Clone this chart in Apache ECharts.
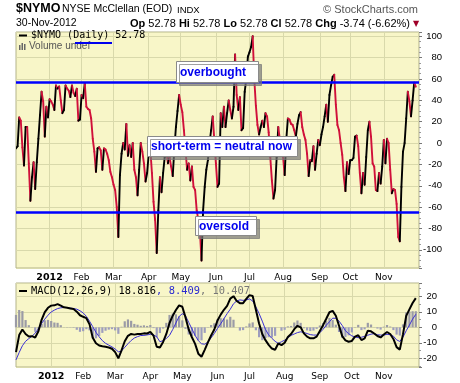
<!DOCTYPE html>
<html><head><meta charset="utf-8">
<script src="https://cdn.jsdelivr.net/npm/echarts@6/dist/echarts.min.js"></script>
<style>html,body{margin:0;padding:0;background:#fff}#c{width:460px;height:383px}</style>
</head><body><div id="c"></div>
<script>
// ---- calendar ----
const firstDay = '2011-12-01';
const lastDay = '2012-11-30';
const holidays = ['2011-12-26','2012-01-02','2012-01-16','2012-02-20','2012-04-06','2012-05-28','2012-07-04','2012-09-03','2012-10-29','2012-10-30','2012-11-22'];
const monthNames = ['Jan','Feb','Mar','Apr','May','Jun','Jul','Aug','Sep','Oct','Nov','Dec'];

// ---- $NYMO daily values ----
const nymo = [
 -5, -3, 24, 21, -4, -21, 15, 15, -19, -54,
 -32, -18, -43, -18, 4, 26, 48, 39, 6, 34,
 24, 41, 39, 36, 31, 54, 51, 53, 40, 28,
 31, 54, 51, 49, 43, 54, 47, 44, 51, 21,
 22, 45, 42, 56, 34, 32, 31, 23, 4, -8,
 -27, -5, -4, -7, -25, -5, -6, -10, -16, -27,
 -32, -39, -44, -60, -88, -30, -10, 0, -6, 18,
 -12, -2, -13, 0, -25, -32, -49, -25, 0, -8,
 -19, -36, -28, -10, -6, -28, -55, -72, -103, -63,
 -32, -46, -28, -13, -7, -19, -13, -22, -31, -6,
 15, 30, 45, 36, 29, 12, -7, -25, -19, -35,
 -22, -41, -44, -63, -72, -82, -110, -63, -41, -25,
 -16, 0, 12, 25, 3, -19, -41, -38, 28, 15,
 34, 15, 28, 40, 31, 23, 34, 83, 45, 31,
 43, 12, 14, 48, 60, 81, 85, 90, 100, 60,
 35, 17, 8, 15, 21, 15, 28, 25, 10, -13,
 -35, -52, -44, -13, 15, 3, -7, -13, -30, 3,
 23, 22, 18, 17, 12, 6, 18, 26, 29, 15,
 8, 3, -10, -31, -16, -17, -3, -25, -10, 3,
 -2, 8, 15, 25, 36, 20, 45, 54, 62, 64,
 36, 17, 12, 0, -11, -32, -45, -18, -29, -16,
 -16, -14, 6, 7, -3, -28, -47, -28, -39, -13,
 12, 20, 6, -19, -22, -44, -45, -28, -38, -22,
 3, -19, 4, 0, -25, -47, -43, -44, -57, -88,
 -92, -41, -8, 0, 23, 48, 39, 25, 40, 56.52,
 52.78
];
const overbought = 56.6;
const oversold = -64.5;

// ---- MACD(12,26,9), read every second trading day ----
const macdLine = [
 -16, -5, -1.4, -4.3, -5.9, -5.7, -6.6, -2.5, 4.8, 9.8,
 12.6, 14, 14.2, 15, 14, 12.9, 12.6, 12.2, 11.8, 10.1,
 7.8, 6.8, 5.9, 1.9, -6.8, -10.3, -11.7, -12.2, -12.5, -13,
 -13.8, -16, -20, -14.8, -9, -5.5, -4.3, -4.7, -4.3, -4.3,
 -3.9, -4, -3, -5.4, -12.5, -13, -9.4, -4.3, 2.8, 7.5,
 11.2, 14.2, 13.3, 6.4, -1.4, -6.4, -10.7, -17, -19, -14.5,
 -9.7, -5.3, -1.4, 4.4, 8.2, 11.3, 13.8, 18.5, 20.1, 17,
 15.6, 15.6, 18.3, 20.8, 20.2, 11.3, 2.5, -4.3, -8.3, -11.3,
 -13.7, -14.5, -10.4, -11.5, -9.9, -6.2, -4.3, -1.2, 1, 0,
 -3.9, -6, -7.1, -7.1, -6, -2.3, 1.4, 5.5, 9.7, 10.6,
 7.5, 1, -5.7, -8.4, -9.3, -8.8, -6, -5.1, -8.2, -7.1,
 -2.2, -2.6, -4, -5.6, -6.5, -4.6, -3, -4.3, -7.5, -12.8,
 -14.4, -4.4, 7.4, 11.6, 15.7, 18.816
];
const signalLine = [
 -21, -16.2, -11.9, -9, -7.3, -5.8, -3.7, -1, 2.5, 5.3,
 7.8, 9.9, 11.1, 12.1, 12.6, 12.8, 12.8, 12.4, 12.1, 11.7,
 10.7, 9.3, 7.1, 3.9, 0.4, -3.2, -6.1, -8.6, -10.3, -11.5,
 -12.6, -14, -15.8, -15.2, -12.9, -10.6, -8.5, -6.9, -6, -5.3,
 -5.2, -4.9, -4.5, -4.9, -6.1, -9.3, -8.6, -7.2, -5.2, -1.4,
 2.8, 7, 8.8, 7.4, 3.2, -1, -5.2, -8.6, -10.6, -10.9,
 -9.5, -6.8, -4, -0.7, 2.3, 5.5, 8.8, 11.7, 15.2, 17,
 17.7, 17.4, 17.7, 18.3, 17, 13.2, 8.9, 4, -1.4, -4.9,
 -7.1, -9, -10.4, -9.3, -8.3, -6.8, -5.2, -4.3, -3.4, -2.9,
 -3.3, -4, -4.7, -5, -5, -3.5, -1.3, 1.3, 3.6, 5.9,
 5.8, 4, 1.2, -2.2, -4.1, -5.5, -6.2, -6.7, -6.4, -5.8,
 -5.1, -4.4, -4.1, -4.8, -5, -5, -4.5, -4.8, -5.7, -8.1,
 -9.1, -6.3, -2.2, 1.4, 5.3, 8.409
];
const histogram = [
 8, 11.2, 10.5, 4.7, 1.4, 0.1, -2.9, -1.5, 2.3, 4.5,
 4.8, 4.1, 3.1, 2.9, 1.4, 0.1, -0.2, -0.2, -0.3, -1.6,
 -2.9, -2.5, -1.2, -2, -7.2, -7.1, -5.6, -3.6, -2.2, -1.5,
 -1.2, -2, -4.2, 0.4, 3.9, 5.1, 4.2, 2.2, 1.7, 1,
 1.3, 0.9, 1.5, -0.5, -6.4, -3.7, -0.8, 2.9, 8, 8.9,
 8.4, 7.2, 4.5, -1, -4.6, -5.4, -5.5, -8.4, -8.4, -3.6,
 -0.2, 1.5, 2.6, 5.1, 5.9, 5.8, 5, 6.8, 4.9, 0,
 -2.1, -1.8, 0.6, 2.5, 3.2, -1.9, -6.4, -8.3, -6.9, -6.4,
 -6.6, -5.5, 0, -2.2, -1.6, 0.6, 0.9, 3.1, 4.4, 2.9,
 -0.6, -2, -2.4, -2.1, -1, 1.2, 2.7, 4.2, 6.1, 4.7,
 1.7, -3, -6.9, -6.2, -5.2, -3.3, 0.2, 1.6, -1.8, -1.3,
 2.9, 1.8, 0.1, -0.8, -1.5, 0.4, 1.5, 0.5, -1.8, -4.7,
 -5.3, 1.9, 9.6, 10.2, 10.4, 10.407
];

// ---- build trading-day categories ----
function tradingDays(from, to, skip) {
  const out = [];
  const d = new Date(from + 'T00:00:00Z');
  const end = new Date(to + 'T00:00:00Z');
  while (d <= end) {
    const s = d.toISOString().slice(0, 10);
    const w = d.getUTCDay();
    if (w !== 0 && w !== 6 && skip.indexOf(s) < 0) out.push(s);
    d.setUTCDate(d.getUTCDate() + 1);
  }
  return out;
}
const days = tradingDays(firstDay, lastDay, holidays);
const cats = days.concat(['', '']);
const macdCats = days.filter((d, i) => i % 2 === 0).concat(['']);

function monthStart(list) {
  return function (idx, val) {
    return idx > 0 && val !== '' && list[idx - 1] !== '' && val.slice(0, 7) !== list[idx - 1].slice(0, 7);
  };
}
function monthLabel(v) {
  if (!v) return '';
  const m = +v.slice(5, 7);
  return m === 1 ? '{y|' + v.slice(0, 4) + '}' : monthNames[m - 1];
}

const segs = [];
for (let k = 0; k < nymo.length - 1; k++) segs.push([k, nymo[k], nymo[k + 1]]);

const gridColor = '#d9d9ab';
const borderColor = '#b3b38a';
const plotBg = '#f8f6c8';
const monthFont = 'DejaVu Sans';

function xAxisCfg(grid, data) {
  const f = monthStart(data);
  return {
    type: 'category', gridIndex: grid, data: data, boundaryGap: false,
    axisLine: { show: false }, axisTick: { show: false },
    axisLabel: { interval: f, formatter: monthLabel, color: '#000', fontSize: 9, fontFamily: monthFont, margin: 5,
      rich: { y: { fontWeight: 'bold', fontSize: 9.5, fontFamily: monthFont, color: '#000' } } },
    splitLine: { show: true, interval: f, lineStyle: { color: gridColor, width: 1 } }
  };
}

const chart = echarts.init(document.getElementById('c'), null, { renderer: 'canvas' });

const boxStyle = { fill: '#fff', stroke: '#8a8a8a', lineWidth: 1, shadowColor: 'rgba(120,120,120,0.7)', shadowOffsetX: 3, shadowOffsetY: 3, shadowBlur: 0 };
const boxFont = 'bold 12px "Liberation Sans", Arial, sans-serif';
function note(x, y, w, h, text) {
  return [
    { type: 'rect', z: 100, shape: { x: x + 0.5, y: y + 0.5, width: w, height: h }, style: boxStyle },
    { type: 'text', z: 101, style: { x: x + 4, y: y + h / 2 + 1, text: text, font: boxFont, fill: '#0000ee', verticalAlign: 'middle' } }
  ];
}

const option = {
  animation: false,
  backgroundColor: '#fff',
  grid: [
    { left: 16, top: 32, width: 403, height: 236, show: true, backgroundColor: plotBg, borderColor: borderColor, borderWidth: 1 },
    { left: 16, top: 283, width: 403, height: 84, show: true, backgroundColor: plotBg, borderColor: borderColor, borderWidth: 1 }
  ],
  xAxis: [ xAxisCfg(0, cats), xAxisCfg(1, macdCats) ],
  yAxis: [
    { type: 'value', gridIndex: 0, position: 'right', min: -117, max: 104, splitNumber: 11,
      axisLine: { show: false },
      axisTick: { show: true, length: 3, lineStyle: { color: '#777' } },
      minorTick: { show: true, splitNumber: 4, length: 2, lineStyle: { color: '#999' } },
      axisLabel: { showMinLabel: false, showMaxLabel: false, align: 'right', margin: 23, fontSize: 9.5, fontFamily: 'Liberation Sans', color: '#000' },
      splitLine: { lineStyle: { color: gridColor } } },
    { type: 'value', gridIndex: 1, position: 'right', min: -25.6, max: 28.6, splitNumber: 5,
      axisLine: { show: false },
      axisTick: { show: true, length: 3, lineStyle: { color: '#777' } },
      minorTick: { show: true, splitNumber: 2, length: 2, lineStyle: { color: '#999' } },
      axisLabel: { showMinLabel: false, showMaxLabel: false, align: 'right', margin: 18, fontSize: 9.5, fontFamily: 'Liberation Sans', color: '#000' },
      splitLine: { lineStyle: { color: gridColor } } }
  ],
  series: [
    { type: 'line', xAxisIndex: 0, yAxisIndex: 0, data: nymo, showSymbol: false, silent: true,
      lineStyle: { opacity: 0 }, z: 4,
      markLine: { silent: true, symbol: ['none', 'none'], label: { show: false },
        lineStyle: { color: '#0000ff', width: 2.5, type: 'solid' },
        data: [ { yAxis: overbought }, { yAxis: oversold } ] } },
    { type: 'custom', xAxisIndex: 0, yAxisIndex: 0, data: segs, clip: true, z: 3,
      encode: { x: 0, y: [1, 2] },
      renderItem: function (params, api) {
        const k = api.value(0);
        const a = api.coord([k, api.value(1)]);
        const b = api.coord([k + 1, api.value(2)]);
        const up = api.value(2) >= api.value(1);
        return { type: 'line', shape: { x1: a[0], y1: a[1], x2: b[0], y2: b[1] },
          style: { stroke: up ? '#000000' : '#d0103a', lineWidth: 1.9, lineCap: 'round' } };
      } },
    { type: 'bar', xAxisIndex: 1, yAxisIndex: 1, data: histogram, barWidth: 2.2, silent: true,
      itemStyle: { color: function (p) { return p.value >= 0 ? '#9b9ba6' : '#9d9dbd'; } } },
    { type: 'line', xAxisIndex: 1, yAxisIndex: 1, data: signalLine, showSymbol: false, silent: true,
      lineStyle: { color: '#3a2fd6', width: 1 } },
    { type: 'line', xAxisIndex: 1, yAxisIndex: 1, data: macdLine, showSymbol: false, silent: true,
      lineStyle: { color: '#000', width: 2 } }
  ],
  graphic: [
    { type: 'text', style: { x: 16, y: 9, text: '$NYMO', font: 'bold 12.5px "Liberation Sans", Arial', fill: '#000', verticalAlign: 'middle' } },
    { type: 'text', style: { x: 62, y: 9.5, text: 'NYSE McClellan (EOD)', font: '10.5px "Liberation Sans", Arial', fill: '#000', verticalAlign: 'middle' } },
    { type: 'text', style: { x: 177, y: 10, text: 'INDX', font: '9.5px "Liberation Sans", Arial', fill: '#000', verticalAlign: 'middle' } },
    { type: 'text', style: { x: 418, y: 9.5, text: '\u00A9 StockCharts.com', font: '11px "Liberation Sans", Arial', fill: '#555', align: 'right', verticalAlign: 'middle' } },
    { type: 'text', style: { x: 16, y: 23.5, text: '30-Nov-2012', font: '10.5px "Liberation Sans", Arial', fill: '#000', verticalAlign: 'middle' } },
    { type: 'text', style: { x: 410, y: 23.5, align: 'right', verticalAlign: 'middle',
      text: '{b|Op} 52.78 {b|Hi} 52.78 {b|Lo} 52.78 {b|Cl} 52.78 {b|Chg} -3.74 (-6.62%)',
      font: '11px "Liberation Sans", Arial', fill: '#000',
      rich: { b: { fontWeight: 'bold', fontSize: 11, fontFamily: 'Liberation Sans', fill: '#000' } } } },
    { type: 'text', style: { x: 413, y: 24, text: '\u25BC', font: '8px "DejaVu Sans"', fill: '#a00028', verticalAlign: 'middle' } },
    // panel legend
    { type: 'rect', z: 50, shape: { x: 19, y: 34.5, width: 8, height: 2 }, style: { fill: '#000' } },
    { type: 'text', z: 50, style: { x: 31, y: 35.5, text: '$NYMO (Daily) 52.78', font: '10px "DejaVu Sans Mono", monospace', fill: '#000', verticalAlign: 'middle' } },
    { type: 'rect', z: 50, shape: { x: 19, y: 45, width: 1.5, height: 5 }, style: { fill: '#666' } },
    { type: 'rect', z: 50, shape: { x: 21.5, y: 43, width: 1.5, height: 7 }, style: { fill: '#666' } },
    { type: 'rect', z: 50, shape: { x: 24, y: 44, width: 1.5, height: 6 }, style: { fill: '#666' } },
    { type: 'text', z: 50, style: { x: 29, y: 46.5, text: 'Volume undef', font: '10px "Liberation Sans", Arial', fill: '#555', verticalAlign: 'middle' } },
    { type: 'line', z: 60, shape: { x1: 75, y1: 43, x2: 112, y2: 43 }, style: { stroke: '#0000ee', lineWidth: 2 } },
    // MACD legend
    { type: 'rect', z: 50, shape: { x: 19, y: 290, width: 8, height: 2 }, style: { fill: '#000' } },
    { type: 'text', z: 50, style: { x: 31, y: 291, verticalAlign: 'middle',
      text: '{k|MACD(12,26,9) 18.816}{s|, 8.409}{g|, 10.407}',
      font: '10.4px "DejaVu Sans Mono", monospace',
      rich: { k: { fill: '#000', fontFamily: 'DejaVu Sans Mono', fontSize: 10.4 },
              s: { fill: '#2a2ad0', fontFamily: 'DejaVu Sans Mono', fontSize: 10.4 },
              g: { fill: '#777', fontFamily: 'DejaVu Sans Mono', fontSize: 10.4 } } } }
  ].concat(
    note(176, 61, 82, 21, 'overbought'),
    note(147, 136, 150, 20, 'short-term = neutral now'),
    note(195, 216, 61, 19, 'oversold')
  )
};
chart.setOption(option);
</script>
</body></html>
